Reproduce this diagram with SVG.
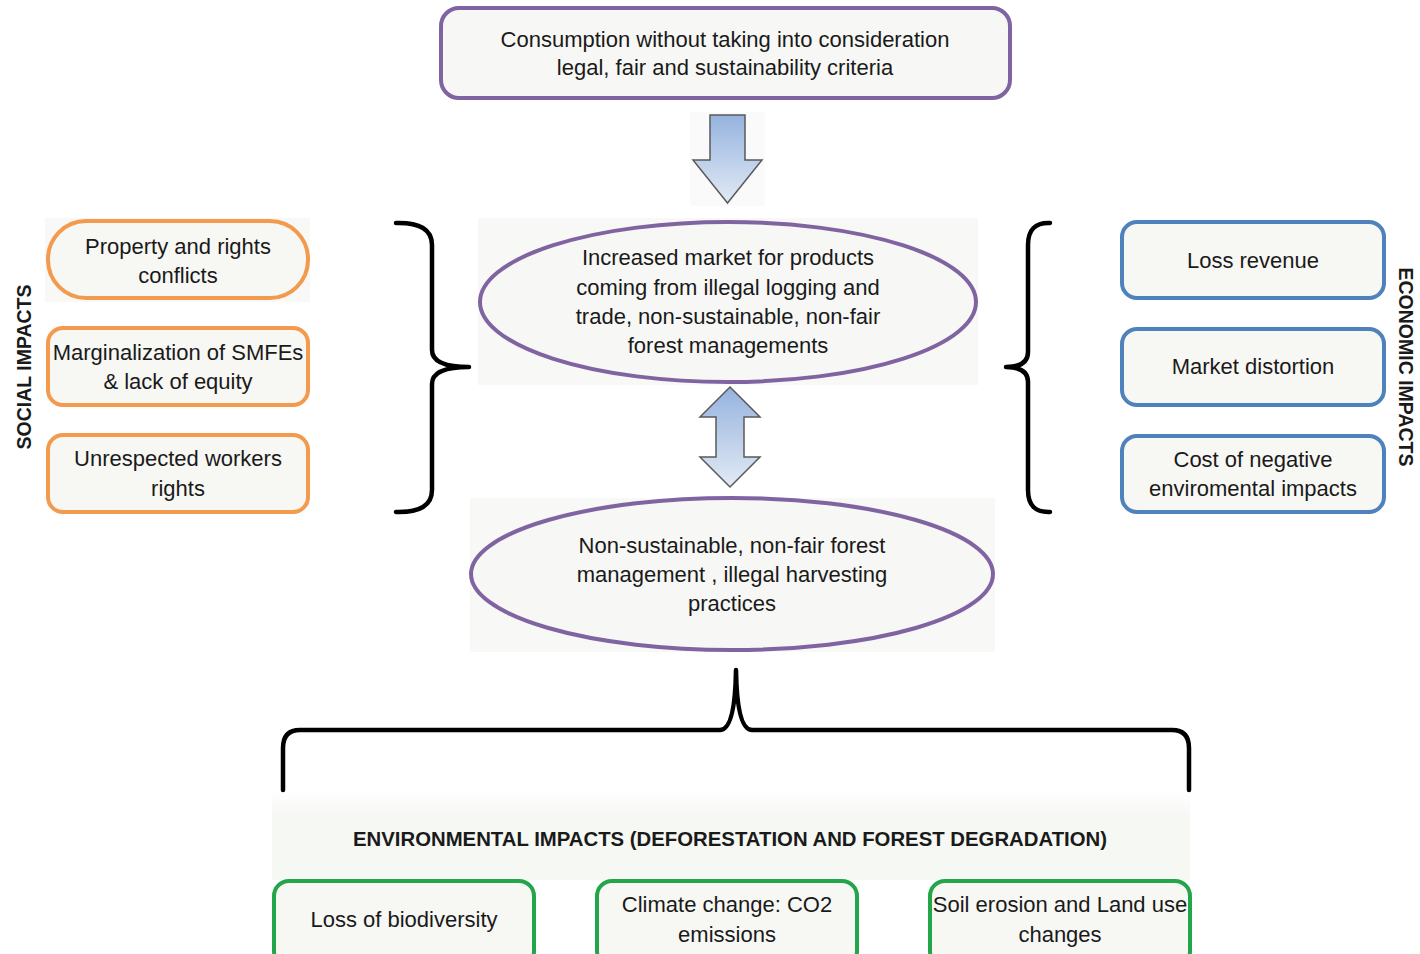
<svg xmlns="http://www.w3.org/2000/svg" width="1420" height="954" viewBox="0 0 1420 954">
<defs>
<linearGradient id="ag" x1="0" y1="0" x2="0" y2="1">
<stop offset="0" stop-color="#95b3de"/>
<stop offset="1" stop-color="#e2eaf5"/>
</linearGradient>
<linearGradient id="envbg" x1="0" y1="0" x2="0" y2="1">
<stop offset="0" stop-color="#ffffff"/>
<stop offset="0.3" stop-color="#f6f8f4"/>
<stop offset="1" stop-color="#f6f8f4"/>
</linearGradient>
<style>
text{font-family:"Liberation Sans",Arial,sans-serif;font-size:22px;fill:#1a1a1a;text-anchor:middle}
.bold{font-weight:bold;font-size:19.5px}
.bg{fill:#f8f8f6}
.purple{fill:#f7f7f5;stroke:#8064a2;stroke-width:4}
.orange{fill:#f7f7f4;stroke:#f29a4d;stroke-width:4}
.blue{fill:#f7f7f4;stroke:#4f81bd;stroke-width:4}
.green{fill:#f7f7f4;stroke:#23a64a;stroke-width:4}
.brace{fill:none;stroke:#000;stroke-width:4.5;stroke-linejoin:round;stroke-linecap:round}
.arrow{fill:url(#ag);stroke:#5a5a5a;stroke-width:1.5}
</style>
</defs>
<rect width="1420" height="954" fill="#ffffff"/>

<g id="top">
<rect x="441" y="8" width="569" height="90" rx="18" class="purple"/>
<text x="725" y="47">Consumption without taking into consideration</text>
<text x="725" y="75">legal, fair and sustainability criteria</text>
</g>

<g id="market">
<rect x="478" y="218" width="500" height="167" class="bg"/>
<ellipse cx="728" cy="302" rx="248" ry="80" class="purple"/>
<text x="728" y="265">Increased market for products</text>
<text x="728" y="295">coming from illegal logging and</text>
<text x="728" y="324">trade, non-sustainable, non-fair</text>
<text x="728" y="353">forest managements</text>
</g>

<g id="practices">
<rect x="470" y="498" width="525" height="154" class="bg"/>
<ellipse cx="732" cy="574" rx="261" ry="76" class="purple"/>
<text x="732" y="553">Non-sustainable, non-fair forest</text>
<text x="732" y="582">management , illegal harvesting</text>
<text x="732" y="611">practices</text>
</g>

<g id="social-label">
<text class="bold" transform="translate(31,367) rotate(-90)">SOCIAL IMPACTS</text>
</g>
<g id="social1">
<rect x="45" y="218" width="265" height="84" class="bg"/>
<rect x="48" y="221" width="260" height="77" rx="38" class="orange"/>
<text x="178" y="254">Property and rights</text>
<text x="178" y="283">conflicts</text>
</g>
<g id="social2">
<rect x="48" y="328" width="260" height="77" rx="15" class="orange"/>
<text x="178" y="360">Marginalization of SMFEs</text>
<text x="178" y="389">&amp; lack of equity</text>
</g>
<g id="social3">
<rect x="48" y="435" width="260" height="77" rx="15" class="orange"/>
<text x="178" y="466">Unrespected workers</text>
<text x="178" y="496">rights</text>
</g>

<g id="economic-label">
<text class="bold" transform="translate(1399,367) rotate(90)">ECONOMIC IMPACTS</text>
</g>
<g id="econ1">
<rect x="1122" y="222" width="262" height="76" rx="15" class="blue"/>
<text x="1253" y="268">Loss revenue</text>
</g>
<g id="econ2">
<rect x="1122" y="329" width="262" height="76" rx="15" class="blue"/>
<text x="1253" y="374">Market distortion</text>
</g>
<g id="econ3">
<rect x="1122" y="436" width="262" height="76" rx="15" class="blue"/>
<text x="1253" y="467">Cost of negative</text>
<text x="1253" y="496">enviromental impacts</text>
</g>

<g id="env-label">
<rect x="272" y="790" width="918" height="90" fill="url(#envbg)"/>
<text class="bold" x="730" y="846" textLength="754" lengthAdjust="spacingAndGlyphs">ENVIRONMENTAL IMPACTS (DEFORESTATION AND FOREST DEGRADATION)</text>
</g>
<g id="env1">
<rect x="274" y="881" width="260" height="85" rx="15" class="green"/>
<text x="404" y="927">Loss of biodiversity</text>
</g>
<g id="env2">
<rect x="597" y="881" width="260" height="85" rx="15" class="green"/>
<text x="727" y="912">Climate change: CO2</text>
<text x="727" y="942">emissions</text>
</g>
<g id="env3">
<rect x="930" y="881" width="260" height="85" rx="15" class="green"/>
<text x="1060" y="912">Soil erosion and Land use</text>
<text x="1060" y="942">changes</text>
</g>

<g id="connectors">
<rect x="690" y="112" width="75" height="94" fill="#fafafa"/>
<path class="arrow" d="M710,115 H745 V160 H762 L727.5,203 L693,160 H710 Z"/>
<path class="arrow" d="M730,387 L760,417 H744 V457 H760 L730,487 L700,457 H716 V417 H700 Z"/>
<path class="brace" d="M396,223 Q432,222 432,245 V350 Q432,367 469,367 Q432,367 432,384 V490 Q432,513 396,512"/>
<path class="brace" d="M1050,223 Q1028,222 1028,245 V352 Q1028,367 1006,367 Q1028,367 1028,382 V490 Q1028,513 1050,512"/>
<path class="brace" d="M283,790 V748 Q283,730 300,730 H720 Q735,730 736,670 Q737,730 752,730 H1172 Q1189,730 1189,748 V790"/>
</g>
</svg>
